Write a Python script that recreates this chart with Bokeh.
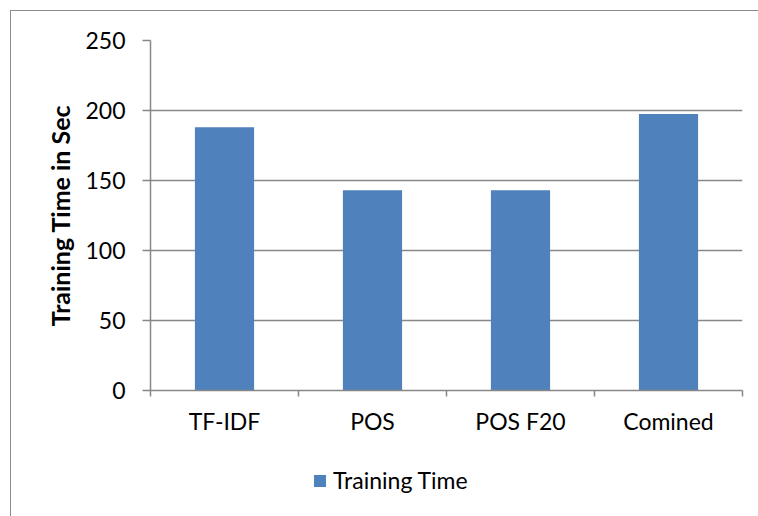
from bokeh.plotting import figure
from bokeh.layouts import column
from bokeh.models import FixedTicker, Legend, LegendItem, Range1d, InlineStyleSheet
from bokeh.embed import file_html
from bokeh.resources import INLINE

# Data
categories = ["TF-IDF", "POS", "POS F20", "Comined"]
training_time = [188, 143, 143, 197.5]
y_ticks = [0, 50, 100, 150, 200, 250]
series_name = "Training Time"

FONT = "Lato"
GRID = "#878787"
BAR = "#4F81BD"

n = len(categories)
centers = [i + 0.5 for i in range(n)]

p = figure(width=758, height=450, output_backend="svg", toolbar_location=None,
           x_range=Range1d(0, n), y_range=Range1d(0, 250),
           min_border_left=150, min_border_right=16,
           min_border_top=40, min_border_bottom=60)
p.outline_line_color = None
p.background_fill_color = "white"
p.border_fill_color = "white"

bars = p.vbar(x=centers, top=training_time, width=0.4,
              fill_color=BAR, line_color=None)

# x axis: labels at category centres, tick marks at the category boundaries
xa = p.xaxis[0]
xa.ticker = FixedTicker(ticks=centers, minor_ticks=list(range(n + 1)))
xa.major_label_overrides = {c: lab for c, lab in zip(centers, categories)}
xa.major_tick_line_color = None
xa.minor_tick_line_color = GRID
xa.minor_tick_line_width = 1.5
xa.minor_tick_in = 0
xa.minor_tick_out = 6
xa.axis_line_color = GRID
xa.axis_line_width = 1.5
xa.major_label_text_font = FONT
xa.major_label_text_font_size = "23px"
xa.major_label_text_color = "black"
xa.major_label_standoff = 10

ya = p.yaxis[0]
ya.ticker = FixedTicker(ticks=y_ticks)
ya.minor_tick_line_color = None
ya.major_tick_line_color = GRID
ya.major_tick_line_width = 1.5
ya.major_tick_in = 0
ya.major_tick_out = 8
ya.axis_line_color = GRID
ya.axis_line_width = 1.5
ya.major_label_text_font = FONT
ya.major_label_text_font_size = "23px"
ya.major_label_text_color = "black"
ya.major_label_standoff = 17
ya.axis_label = "Training Time in Sec"
ya.axis_label_text_font = FONT
ya.axis_label_text_font_style = "bold"
ya.axis_label_text_font_size = "25px"
ya.axis_label_text_color = "black"
ya.axis_label_standoff = 7

p.xgrid.grid_line_color = None
p.ygrid.ticker = FixedTicker(ticks=y_ticks[1:])
p.ygrid.grid_line_color = GRID
p.ygrid.grid_line_width = 1.5

# legend strip under the chart (its frame lines up with the chart's frame)
leg = figure(width=758, height=66, output_backend="svg", toolbar_location=None,
             x_axis_location=None, y_axis_location=None,
             min_border=0, x_range=Range1d(0, 1), y_range=Range1d(0, 1))
leg.outline_line_color = None
leg.grid.grid_line_color = None
leg.background_fill_color = "white"
leg.border_fill_color = "white"
# off-range swatch renderer that only feeds the legend glyph
swatch = leg.vbar(x=[-5], top=[-5], width=0.4, fill_color=BAR, line_color=None)

legend = Legend(items=[LegendItem(label=series_name, renderers=[swatch])],
                location=(162, 22), orientation="horizontal",
                glyph_width=15, glyph_height=15, label_standoff=6,
                padding=0, margin=0, border_line_color=None,
                background_fill_alpha=0,
                label_text_font=FONT, label_text_font_size="23px",
                label_text_color="black")
leg.add_layout(legend, "center")

page = column(p, leg, spacing=0)
# thin frame around the chart area
page.stylesheets = [InlineStyleSheet(css="""
:host::after {
  content: ""; position: absolute; left: 10px; top: 10px;
  width: 800px; height: 600px; border: 1px solid #8c8c8c;
  pointer-events: none; box-sizing: border-box;
}
""")]

open("out.html", "w").write(file_html(page, INLINE))
